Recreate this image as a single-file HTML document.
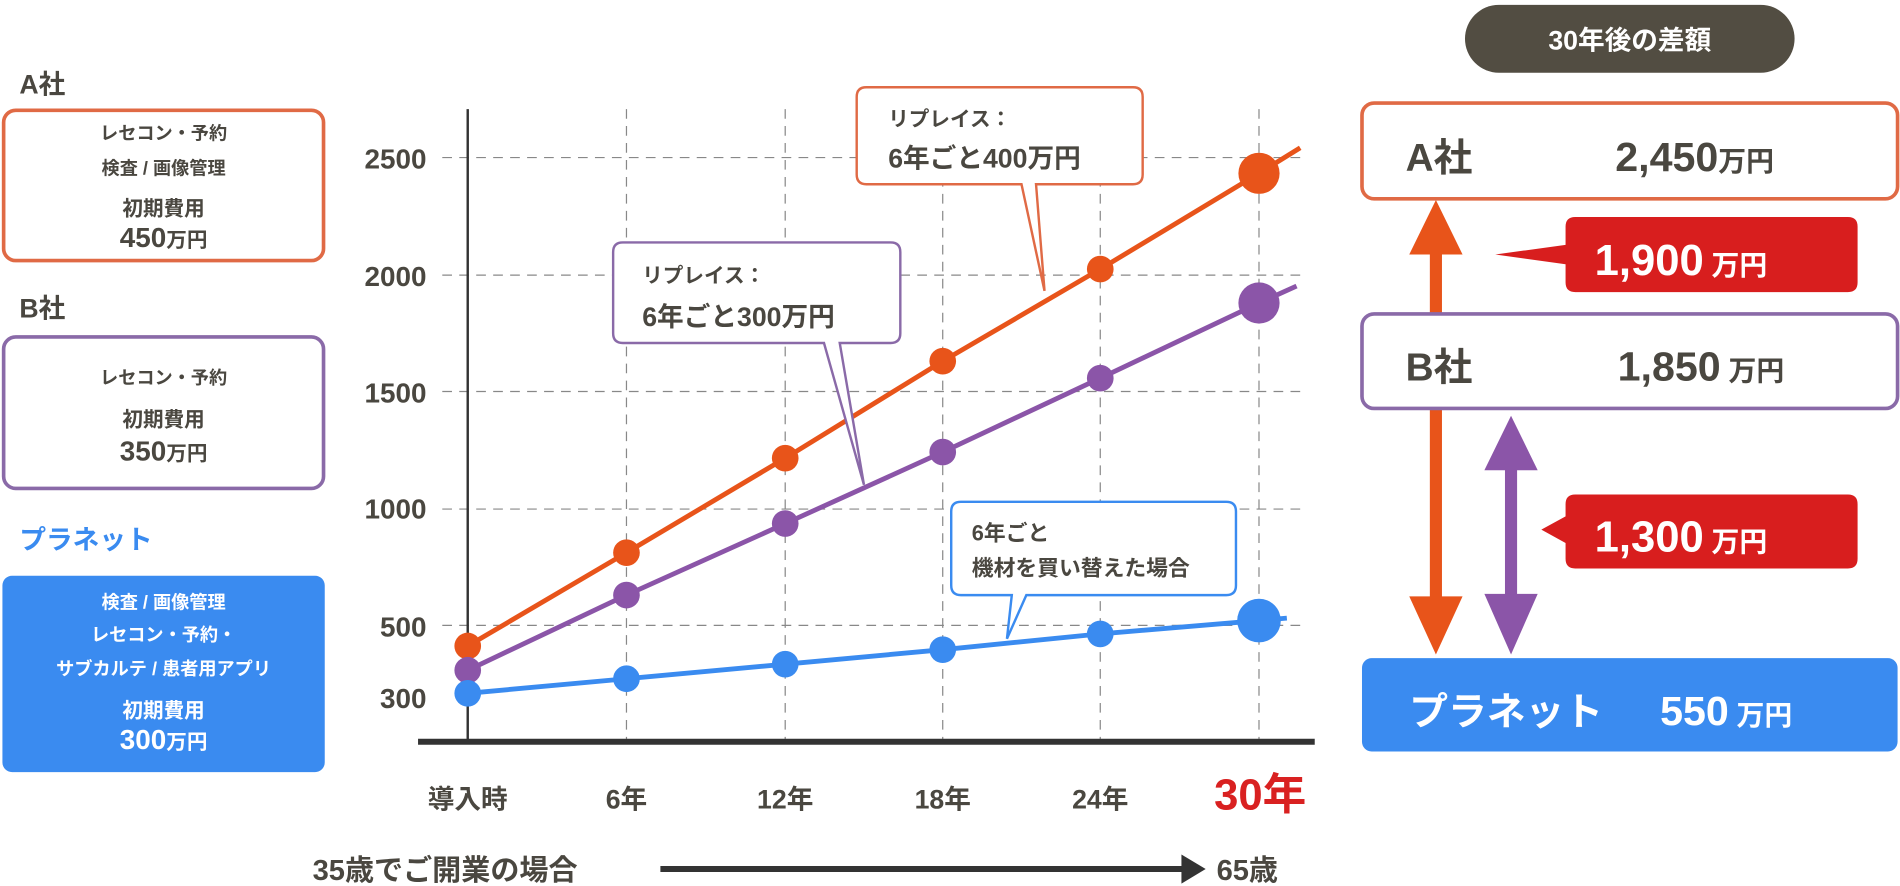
<!DOCTYPE html>
<html><head><meta charset="utf-8"><style>
html,body{margin:0;padding:0;background:#fff;}
svg{display:block;}
text{font-family:"Liberation Sans","Noto Sans CJK JP",sans-serif;font-weight:bold;fill:#4a4740;}
</style></head><body>
<svg width="1900" height="886" viewBox="0 0 1568 731" preserveAspectRatio="none" xmlns="http://www.w3.org/2000/svg">
<!-- left labels -->
<text x="16" y="77" font-size="22">A社</text>
<rect x="3" y="91" width="264" height="124" rx="10" fill="#fff" stroke="#e06a45" stroke-width="3"/>
<g text-anchor="middle">
<text x="135" y="115" font-size="15">レセコン・予約</text>
<text x="135" y="144" font-size="15">検査 / 画像管理</text>
<text x="135" y="178" font-size="17">初期費用</text>
<text x="135" y="204" font-size="23">450<tspan font-size="17">万円</tspan></text>
</g>
<text x="16" y="262" font-size="22">B社</text>
<rect x="3" y="278" width="264" height="125" rx="10" fill="#fff" stroke="#8a6aa8" stroke-width="3"/>
<g text-anchor="middle">
<text x="135" y="317" font-size="15">レセコン・予約</text>
<text x="135" y="352" font-size="17">初期費用</text>
<text x="135" y="380" font-size="23">350<tspan font-size="17">万円</tspan></text>
</g>
<text x="16" y="453" font-size="22" style="fill:#3a8bf0">プラネット</text>
<rect x="2" y="475" width="266" height="162" rx="8" fill="#3a8bf0"/>
<g text-anchor="middle">
<text x="135" y="502" font-size="15" style="fill:#fff">検査 / 画像管理</text>
<text x="135" y="529" font-size="15" style="fill:#fff">レセコン・予約・</text>
<text x="135" y="557" font-size="15" style="fill:#fff">サブカルテ / 患者用アプリ</text>
<text x="135" y="592" font-size="17" style="fill:#fff">初期費用</text>
<text x="135" y="618" font-size="23" style="fill:#fff">300<tspan font-size="17">万円</tspan></text>
</g>
<!-- grid -->
<g stroke="#888" stroke-width="1" stroke-dasharray="8,6">
<line x1="365" y1="130" x2="1075" y2="130"/>
<line x1="365" y1="227" x2="1075" y2="227"/>
<line x1="365" y1="323" x2="1075" y2="323"/>
<line x1="365" y1="420" x2="1075" y2="420"/>
<line x1="365" y1="516" x2="1075" y2="516"/>
<line x1="517" y1="90" x2="517" y2="610"/>
<line x1="648" y1="90" x2="648" y2="610"/>
<line x1="778" y1="90" x2="778" y2="610"/>
<line x1="908" y1="90" x2="908" y2="610"/>
<line x1="1039" y1="90" x2="1039" y2="610"/>
</g>
<line x1="386" y1="90" x2="386" y2="612" stroke="#333" stroke-width="2"/>
<line x1="345" y1="612" x2="1085" y2="612" stroke="#333" stroke-width="5"/>
<g text-anchor="end" font-size="23">
<text x="352" y="139">2500</text>
<text x="352" y="236">2000</text>
<text x="352" y="332">1500</text>
<text x="352" y="428">1000</text>
<text x="352" y="525">500</text>
<text x="352" y="584">300</text>
</g>
<g text-anchor="middle" font-size="22">
<text x="386" y="667">導入時</text>
<text x="517" y="667">6年</text>
<text x="648" y="667">12年</text>
<text x="778" y="667">18年</text>
<text x="908" y="667">24年</text>
<text x="1040" y="668" font-size="36" style="fill:#d92121">30年</text>
</g>
<!-- series -->
<polyline points="386,533 517,456 648,378 778,298 908,222 1039,143 1073,122" fill="none" stroke="#e8541a" stroke-width="4"/>
<polyline points="386,553 517,491 648,432 778,373 908,312 1039,250 1070,236" fill="none" stroke="#8b55a8" stroke-width="4"/>
<polyline points="386,572 517,560 648,548 778,536 908,523 1039,512 1062,510" fill="none" stroke="#3a8bf0" stroke-width="4"/>
<g fill="#e8541a"><circle cx="386" cy="533" r="11"/><circle cx="517" cy="456" r="11"/><circle cx="648" cy="378" r="11"/><circle cx="778" cy="298" r="11"/><circle cx="908" cy="222" r="11"/><circle cx="1039" cy="143" r="17"/></g>
<g fill="#8b55a8"><circle cx="386" cy="553" r="11"/><circle cx="517" cy="491" r="11"/><circle cx="648" cy="432" r="11"/><circle cx="778" cy="373" r="11"/><circle cx="908" cy="312" r="11"/><circle cx="1039" cy="250" r="17"/></g>
<g fill="#3a8bf0"><circle cx="386" cy="572" r="11"/><circle cx="517" cy="560" r="11"/><circle cx="648" cy="548" r="11"/><circle cx="778" cy="536" r="11"/><circle cx="908" cy="523" r="11"/><circle cx="1039" cy="512" r="18"/></g>
<!-- callouts -->
<path d="M715,72 H935 Q943,72 943,80 V144 Q943,152 935,152 H855 L862,240 L843,152 H715 Q707,152 707,144 V80 Q707,72 715,72 Z" fill="#fff" stroke="#e06a45" stroke-width="2"/>
<text x="733" y="104" font-size="17">リプレイス：</text>
<text x="733" y="138" font-size="22">6年ごと400万円</text>
<path d="M514,200 H735 Q743,200 743,208 V275 Q743,283 735,283 H693 L713,400 L680,283 H514 Q506,283 506,275 V208 Q506,200 514,200 Z" fill="#fff" stroke="#8a6aa8" stroke-width="2"/>
<text x="530" y="233" font-size="17">リプレイス：</text>
<text x="530" y="269" font-size="22">6年ごと300万円</text>
<path d="M793,414 H1012 Q1020,414 1020,422 V483 Q1020,491 1012,491 H847 L831,527 L835,491 H793 Q785,491 785,483 V422 Q785,414 793,414 Z" fill="#fff" stroke="#3a8bf0" stroke-width="2"/>
<text x="802" y="446" font-size="18">6年ごと</text>
<text x="802" y="475" font-size="18">機材を買い替えた場合</text>
<!-- bottom -->
<text x="258" y="726" font-size="24">35歳でご開業の場合</text>
<line x1="545" y1="717" x2="980" y2="717" stroke="#333" stroke-width="5"/>
<polygon points="975,705 995,717 975,729" fill="#333"/>
<text x="1004" y="726" font-size="24">65歳</text>
<!-- right: arrows first -->
<polygon points="1185,165 1207,210 1190,210 1190,492 1207,492 1185,540 1163,492 1180,492 1180,210 1163,210" fill="#e8541a"/>
<polygon points="1247,343 1269,388 1252,388 1252,490 1269,490 1247,540 1225,490 1242,490 1242,388 1225,388" fill="#8b55a8"/>
<rect x="1209" y="4" width="272" height="56" rx="28" fill="#524d42"/>
<text x="1345" y="41" font-size="22" text-anchor="middle" style="fill:#fff">30年後の差額</text>
<rect x="1124" y="85" width="442" height="79" rx="10" fill="#fff" stroke="#e06a45" stroke-width="3"/>
<text x="1160" y="141" font-size="32">A社</text>
<text x="1333" y="141" font-size="34">2,450<tspan font-size="23">万円</tspan></text>
<rect x="1124" y="259" width="442" height="78" rx="10" fill="#fff" stroke="#8a6aa8" stroke-width="3"/>
<text x="1160" y="314" font-size="32">B社</text>
<text x="1335" y="314" font-size="34">1,850<tspan font-size="23"> 万円</tspan></text>
<path d="M1300,179 H1525 Q1533,179 1533,187 V233 Q1533,241 1525,241 H1300 Q1292,241 1292,233 V218 L1234,210 L1292,202 V187 Q1292,179 1300,179 Z" fill="#d81e1e"/>
<text x="1316" y="227" font-size="36" style="fill:#fff">1,900<tspan font-size="23"> 万円</tspan></text>
<path d="M1300,408 H1525 Q1533,408 1533,416 V461 Q1533,469 1525,469 H1300 Q1292,469 1292,461 V448 L1272,437 L1292,426 V416 Q1292,408 1300,408 Z" fill="#d81e1e"/>
<text x="1316" y="455" font-size="36" style="fill:#fff">1,300<tspan font-size="23"> 万円</tspan></text>
<rect x="1124" y="543" width="442" height="77" rx="8" fill="#3a8bf0"/>
<text x="1163" y="598" font-size="32" style="fill:#fff">プラネット</text>
<text x="1370" y="598" font-size="34" style="fill:#fff">550<tspan font-size="23"> 万円</tspan></text>
</svg>
</body></html>
